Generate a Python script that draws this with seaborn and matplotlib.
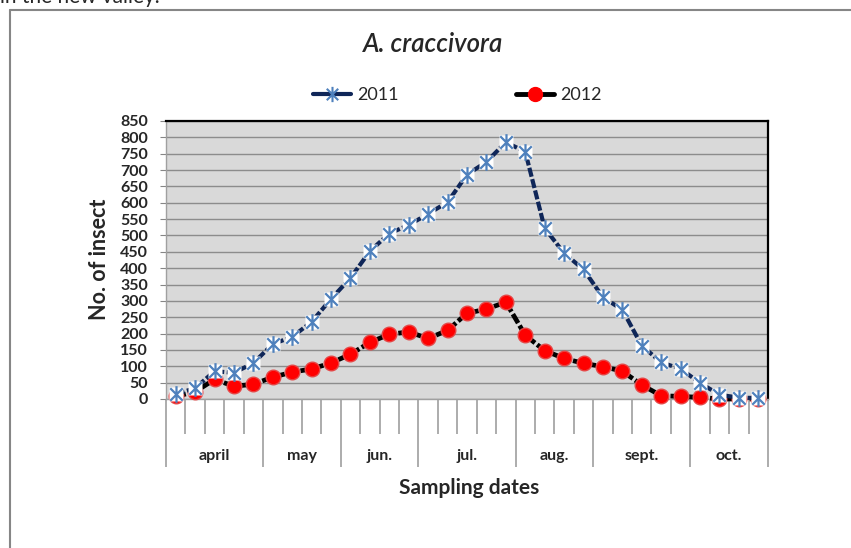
import numpy as np
import pandas as pd
import matplotlib
matplotlib.use('Agg')
import matplotlib.pyplot as plt
from matplotlib.path import Path
from matplotlib.lines import Line2D
import seaborn as sns

# Data
months = ['april', 'may', 'jun.', 'jul.', 'aug.', 'sept.', 'oct.']
samples_per_month = [5, 4, 4, 5, 4, 5, 4]

insects_2011 = [15, 33, 85, 80, 110, 168, 190, 236, 306, 370, 452, 506, 532, 566, 602, 686,
                725, 785, 756, 522, 446, 396, 311, 273, 163, 112, 92, 49, 13, 4, 3]
insects_2012 = [8, 22, 60, 39, 45, 67, 82, 92, 110, 137, 173, 198, 205, 185, 210, 262,
                275, 296, 195, 148, 124, 109, 99, 85, 43, 10, 8, 5, 0, 0, 0]

df = pd.DataFrame({
    'sample': np.arange(len(insects_2011)),
    'month': np.repeat(months, samples_per_month),
    'y2011': insects_2011,
    'y2012': insects_2012,
})

# Style
sns.set_style('white')
plt.rcParams['font.family'] = ['Lato', 'DejaVu Sans']

W, H = 851, 548
fig = plt.figure(figsize=(W / 100, H / 100), dpi=100)
ax = fig.add_axes([166 / W, 1 - 399 / H, 602 / W, 278 / H])
ax.set_facecolor('#d9d9d9')

# Excel style "star" marker: X plus a vertical bar
star = Path([(0, -1), (0, 1), (-0.75, -0.75), (0.75, 0.75), (-0.75, 0.75), (0.75, -0.75)],
            [Path.MOVETO, Path.LINETO] * 3)

navy = '#0f2658'
light_blue = '#4f81bd'
dash = (0, (2.2, 0.6))

# 2012 series (red circles on a black line)
sns.lineplot(data=df, x='sample', y='y2012', color='black', lw=3.4, linestyle=dash,
             marker='o', ms=10.5, mfc='#ff0000', mec='#e64545', mew=1.0,
             clip_on=False, zorder=3, ax=ax)

# 2011 series (light blue stars on white squares, navy line)
sns.lineplot(data=df, x='sample', y='y2011', color=navy, lw=3.0, linestyle=dash,
             clip_on=False, zorder=4, ax=ax)
sns.lineplot(data=df, x='sample', y='y2011', color='white', linestyle='none',
             marker='s', ms=10, mec='none', clip_on=False, zorder=4.5, ax=ax)
sns.lineplot(data=df, x='sample', y='y2011', color=light_blue, linestyle='none',
             marker=star, ms=12, mec=light_blue, mew=1.6, clip_on=False, zorder=5, ax=ax)

# Axes
ax.set_xlim(-0.5, len(insects_2011) - 0.5)
ax.set_ylim(0, 850)
ax.set_yticks(np.arange(0, 851, 50))
ax.set_yticklabels([str(v) for v in range(0, 851, 50)], fontweight='bold', fontsize=11.5)
ax.tick_params(axis='y', left=True, length=4, color='#868686', pad=9)
ax.yaxis.grid(True, color='#8c8c8c', lw=1.0)
ax.set_axisbelow(True)
ax.set_xlabel('')
ax.set_ylabel('')

# category axis: long ticks between months, short ticks between samples
bounds = np.concatenate([[0], np.cumsum(samples_per_month)]) - 0.5
ax.set_xticks(bounds)
ax.set_xticks(np.arange(len(insects_2011) + 1) - 0.5, minor=True)
ax.set_xticklabels([''] * len(bounds))
ax.tick_params(axis='x', which='both', bottom=True)
ax.tick_params(axis='x', which='major', length=49, width=1.3, color='#a6a6a6')
ax.tick_params(axis='x', which='minor', length=25, width=1.3, color='#a6a6a6')

for i, m in enumerate(months):
    center = bounds[i] + samples_per_month[i] / 2
    ax.annotate(m, xy=(center, 0), xycoords=('data', 'axes fraction'),
                xytext=(0, -41), textcoords='offset points',
                ha='center', va='center', fontweight='bold', fontsize=11.5)

for side in ['top', 'right']:
    ax.spines[side].set_color('black')
    ax.spines[side].set_linewidth(1.6)
for side in ['left', 'bottom']:
    ax.spines[side].set_color('#a0a0a0')
    ax.spines[side].set_linewidth(1.0)

# Titles and labels
fig.text(433 / W, 1 - 45 / H, 'A. craccivora', style='italic', fontweight='semibold',
         fontsize=18.5, ha='center', va='center')
fig.text(469 / W, 1 - 488 / H, 'Sampling dates', fontweight='bold', fontsize=15,
         ha='center', va='center')
fig.text(100 / W, 1 - 259 / H, 'No. of insect', fontweight='bold', fontsize=15.5,
         rotation=90, ha='center', va='center')

# Legend
h2011 = Line2D([], [], color=navy, lw=3, marker=star, ms=11, mec=light_blue, mew=1.5)
h2012 = Line2D([], [], color='black', lw=3.5, marker='o', ms=10, mfc='#ff0000', mec='#ff0000')
fig.legend(handles=[h2011, h2012], labels=['2011', '2012'], loc='center',
           bbox_to_anchor=(457 / W, 1 - 95 / H), ncol=2, frameon=False, fontsize=13,
           handlelength=2.1, handletextpad=0.35, columnspacing=6.5)

# Surrounding chart frame and the clipped text line above it
fig.add_artist(Line2D([10 / W, 1], [1 - 10 / H, 1 - 10 / H], transform=fig.transFigure,
                      color='#868686', lw=1.5))
fig.add_artist(Line2D([10 / W, 10 / W], [0, 1 - 10 / H], transform=fig.transFigure,
                      color='#868686', lw=1.5))
fig.text(0, 1 - 3 / H, 'in the new valley.', fontsize=15, ha='left', va='baseline')

fig.savefig('out.png', dpi=100)
